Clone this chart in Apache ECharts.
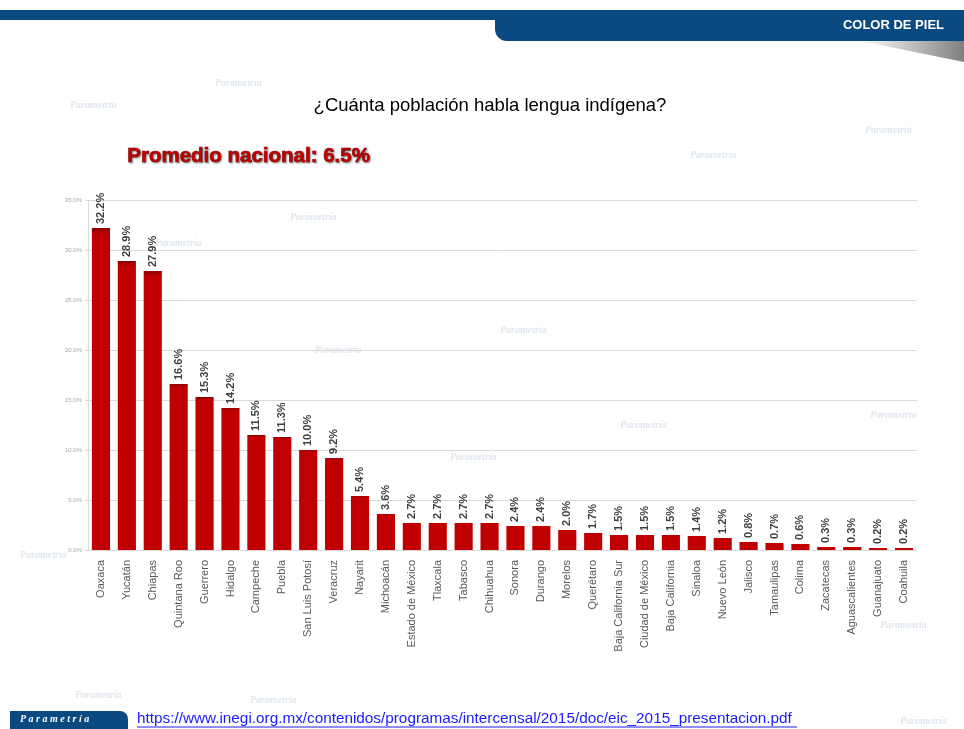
<!DOCTYPE html>
<html><head><meta charset="utf-8">
<script src="https://cdn.jsdelivr.net/npm/echarts@6/dist/echarts.min.js"></script>
<style>html,body{margin:0;padding:0;background:#fff}#c{width:964px;height:729px}</style>
</head><body><div id="c"></div>
<script>
var categories = ['Oaxaca','Yucatán','Chiapas','Quintana Roo','Guerrero','Hidalgo','Campeche','Puebla','San Luis Potosí','Veracruz','Nayarit','Michoacán','Estado de México','Tlaxcala','Tabasco','Chihuahua','Sonora','Durango','Morelos','Querétaro','Baja California Sur','Ciudad de México','Baja California','Sinaloa','Nuevo León','Jalisco','Tamaulipas','Colima','Zacatecas','Aguascalientes','Guanajuato','Coahuila'];
var values = [32.2,28.9,27.9,16.6,15.3,14.2,11.5,11.3,10.0,9.2,5.4,3.6,2.7,2.7,2.7,2.7,2.4,2.4,2.0,1.7,1.5,1.5,1.5,1.4,1.2,0.8,0.7,0.6,0.3,0.3,0.2,0.2];
var titleText = '¿Cuánta población habla lengua indígena?';
var averageText = 'Promedio nacional: 6.5%';
var headerText = 'COLOR DE PIEL';
var sourceText = 'https://www.inegi.org.mx/contenidos/programas/intercensal/2015/doc/eic_2015_presentacion.pdf';

var chart = echarts.init(document.getElementById('c'));
var wm = [];
var wmPos = [[70,100],[215,78],[290,212],[155,238],[500,325],[315,345],[620,420],[450,452],[870,410],[865,125],[690,150],[20,550],[75,690],[250,695],[880,620],[900,716]];
wmPos.forEach(function(p){
  wm.push({type:'text', left:p[0], top:p[1], z:-1, style:{text:'Parametría', fill:'#dfe6ee', font:'italic bold 10px "Liberation Serif"'}});
});
chart.setOption({
  animation:false,
  backgroundColor:'#fff',
  grid:{left:88, right:47, top:200, bottom:179},
  xAxis:{type:'category', data:categories,
    axisLine:{lineStyle:{color:'#d9d9d9'}}, axisTick:{show:false},
    axisLabel:{rotate:90, interval:0, color:'#595959', fontSize:11, fontFamily:'Liberation Sans', margin:10}},
  yAxis:{type:'value', min:0, max:35, interval:5,
    axisLine:{show:true, lineStyle:{color:'#d9d9d9'}}, axisTick:{show:true, length:3, lineStyle:{color:'#d9d9d9'}},
    splitLine:{lineStyle:{color:'#d9d9d9'}},
    axisLabel:{fontSize:6, color:'#a6a6a6', margin:6, formatter:function(v){return v.toFixed(1)+'%';}}},
  series:[{type:'bar', data:values, barCategoryGap:'30%',
    itemStyle:{color:new echarts.graphic.LinearGradient(0,0,0,1,[{offset:0,color:'#8e0000'},{offset:0.02,color:'#c00000'},{offset:1,color:'#c00000'}])},
    label:{show:true, position:'top', rotate:90, align:'left', verticalAlign:'middle', distance:4,
      color:'#404040', fontSize:11, fontWeight:'bold', fontFamily:'Liberation Sans',
      formatter:function(p){return p.value.toFixed(1)+'%';}}}],
  graphic:wm.concat([
    {type:'rect', shape:{x:0,y:10,width:964,height:10}, style:{fill:'#0b4a80'}},
    {type:'rect', shape:{x:495,y:10,width:469,height:31,r:[0,0,0,12]}, style:{fill:'#0b4a80'}},
    {type:'polygon', shape:{points:[[860,41],[964,41],[964,62]]}, style:{fill:new echarts.graphic.LinearGradient(0,0,1,0,[{offset:0,color:'#ffffff'},{offset:1,color:'#7f7f7f'}])}},
    {type:'text', right:20, top:19, style:{text:headerText, fill:'#fff', font:'bold 13px "Liberation Sans"'}},
    {type:'text', style:{x:490, y:106, text:titleText, fill:'#000', font:'18.5px "Liberation Sans"', textAlign:'center', textVerticalAlign:'middle'}},
    {type:'text', left:127, top:146, style:{text:averageText, fill:'#c00000', font:'bold 20.5px "Liberation Sans"', stroke:'#5a0000', lineWidth:0.6, textShadowColor:'rgba(0,0,0,0.45)', textShadowBlur:2, textShadowOffsetX:1, textShadowOffsetY:1}},
    {type:'rect', shape:{x:10,y:711,width:118,height:20,r:[0,8,0,0]}, style:{fill:'#0b4a80'}},
    {type:'text', left:20, top:714, style:{text:'P a r a m e t r í a', fill:'#fff', font:'italic bold 10px "Liberation Serif"'}},
    {type:'text', left:137, top:711, style:{text:sourceText, fill:'#1a1aff', font:'15.3px "Liberation Sans"'}},
    {type:'line', shape:{x1:137,y1:727,x2:797,y2:727}, style:{stroke:'#1a1aff', lineWidth:1}}
  ])
});
</script></body></html>
